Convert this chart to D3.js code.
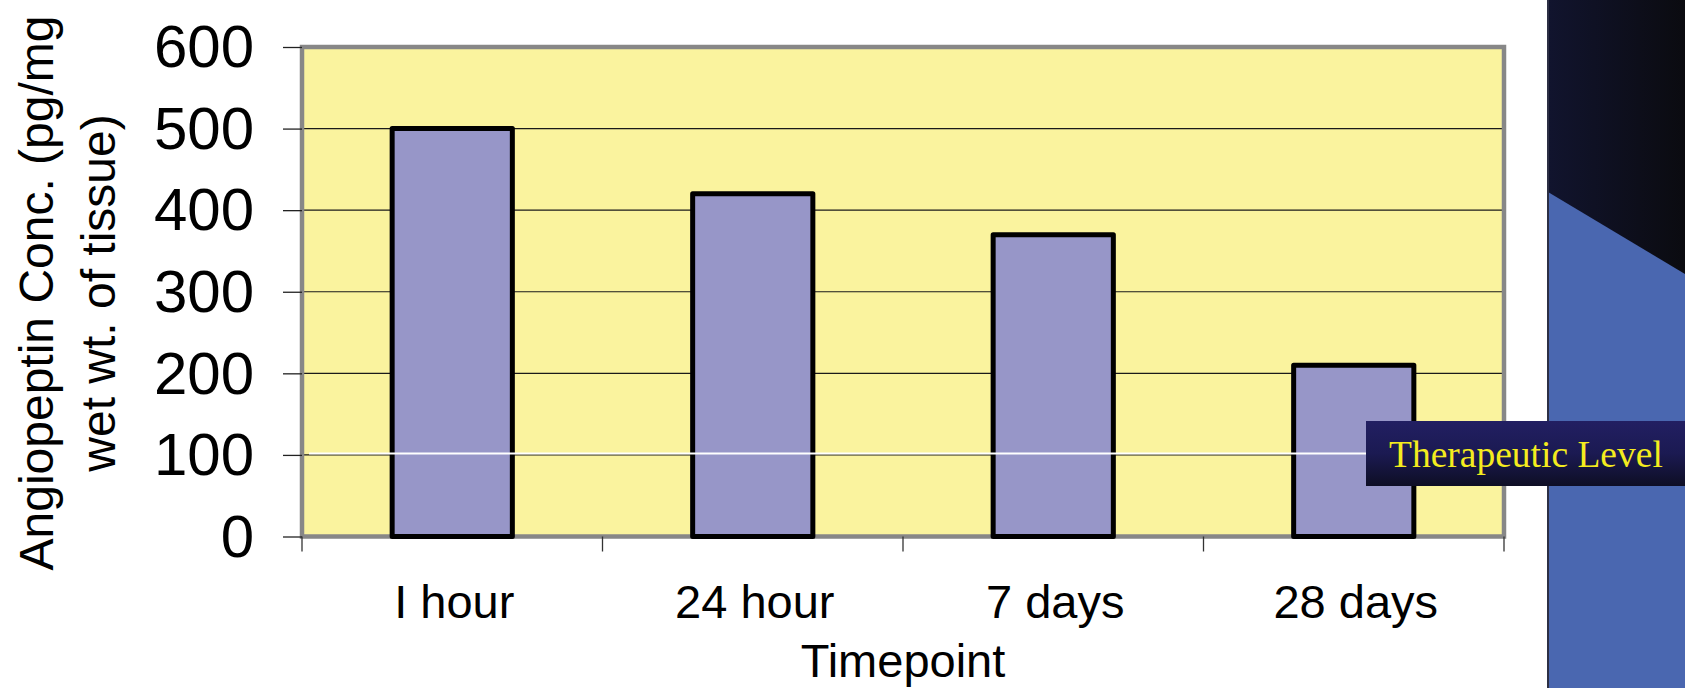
<!DOCTYPE html>
<html>
<head>
<meta charset="utf-8">
<script src="https://cdn.jsdelivr.net/npm/d3@7"></script>
<style>
  html, body { margin: 0; padding: 0; background: #ffffff; overflow: hidden; }
  svg { display: block; }
</style>
</head>
<body>
<svg id="chart" width="1685" height="688"></svg>
<script>
// Angiopeptin tissue concentration by timepoint
const categories = ["I hour", "24 hour", "7 days", "28 days"];
const values = [500, 420, 370, 210];
const yTicks = [0, 100, 200, 300, 400, 500, 600];
const therapeuticLevel = 100;
const therapeuticLabel = "Therapeutic Level";
const yTitleLines = ["Angiopeptin Conc. (pg/mg", "wet wt. of tissue)"];
const xTitle = "Timepoint";

const W = 1685, H = 688;
const plot = { left: 302, right: 1504, top: 47, bottom: 536.5 };

const svg = d3.select("#chart");

// gradients
const defs = svg.append("defs");
const panelGrad = defs.append("linearGradient").attr("id", "panelGrad")
  .attr("x1", "0").attr("x2", "1").attr("y1", "0").attr("y2", "0");
panelGrad.append("stop").attr("offset", "0").attr("stop-color", "#11142e");
panelGrad.append("stop").attr("offset", "1").attr("stop-color", "#0b0b10");
const boxGrad = defs.append("linearGradient").attr("id", "boxGrad")
  .attr("x1", "0").attr("x2", "0").attr("y1", "0").attr("y2", "1");
boxGrad.append("stop").attr("offset", "0").attr("stop-color", "#221f62");
boxGrad.append("stop").attr("offset", "0.5").attr("stop-color", "#1b1a52");
boxGrad.append("stop").attr("offset", "1").attr("stop-color", "#0e0e24");

// decorative side panel
const panelX = 1548;
svg.append("rect").attr("x", panelX).attr("y", 0)
  .attr("width", W - panelX).attr("height", H).attr("fill", "url(#panelGrad)");
svg.append("polygon")
  .attr("points", `${panelX},192 ${W},274 ${W},${H} ${panelX},${H}`)
  .attr("fill", "#4a67b0");
svg.append("line").attr("x1", panelX).attr("x2", panelX).attr("y1", 0).attr("y2", H)
  .attr("stroke", "#2c2f44").attr("stroke-width", 2);

// scales
const x = d3.scaleBand().domain(categories)
  .range([plot.left, plot.right]).paddingInner(0.6).paddingOuter(0.3);
const y = d3.scaleLinear().domain([0, 600]).range([plot.bottom, plot.top]);

// plot area
svg.append("rect")
  .attr("x", plot.left).attr("y", plot.top)
  .attr("width", plot.right - plot.left).attr("height", plot.bottom - plot.top)
  .attr("fill", "#faf39e");

// gridlines
svg.append("g").selectAll("line").data(yTicks.filter(d => d > 0 && d < 600)).join("line")
  .attr("x1", plot.left).attr("x2", plot.right)
  .attr("y1", d => y(d)).attr("y2", d => y(d))
  .attr("stroke", "#1a1a1a").attr("stroke-width", 1.2);

// frame
svg.append("rect")
  .attr("x", plot.left).attr("y", plot.top)
  .attr("width", plot.right - plot.left).attr("height", plot.bottom - plot.top)
  .attr("fill", "none").attr("stroke", "#878787").attr("stroke-width", 4.5);

// y axis
const yAxis = d3.axisLeft(y).tickValues(yTicks).tickSize(19).tickPadding(30)
  .tickFormat(d3.format("d"));
const gy = svg.append("g").attr("transform", `translate(${plot.left},0)`).call(yAxis);
gy.select(".domain").remove();
gy.selectAll(".tick line").attr("stroke", "#222").attr("stroke-width", 1.3);
gy.selectAll(".tick text")
  .attr("font-family", "'Liberation Sans', Arial, sans-serif")
  .attr("font-size", 60).attr("fill", "#000").attr("dy", "0.33em")
  .attr("x", -48);

// x axis: ticks on category boundaries
const bounds = d3.range(categories.length + 1).map(i =>
  plot.left + i * (plot.right - plot.left) / categories.length);
svg.append("g").selectAll("line").data(bounds).join("line")
  .attr("x1", d => d).attr("x2", d => d)
  .attr("y1", plot.bottom).attr("y2", plot.bottom + 15)
  .attr("stroke", "#333").attr("stroke-width", 1.3);

svg.append("g").selectAll("text").data(categories).join("text")
  .attr("x", d => x(d) + x.bandwidth() / 2 + 2)
  .attr("y", 618)
  .attr("text-anchor", "middle")
  .attr("font-family", "'Liberation Sans', Arial, sans-serif")
  .attr("font-size", 47).attr("fill", "#000")
  .text(d => d);

// bars
svg.append("g").selectAll("rect").data(values).join("rect")
  .attr("x", (d, i) => x(categories[i]))
  .attr("y", d => y(d))
  .attr("width", x.bandwidth())
  .attr("height", d => y(0) - y(d))
  .attr("fill", "#9796c8")
  .attr("stroke", "#000").attr("stroke-width", 5)
  .attr("stroke-linejoin", "round");

// therapeutic level line and label
const boxX = 1366, boxY = 421, boxH = 65;
svg.append("line")
  .attr("x1", plot.left + 7).attr("x2", boxX)
  .attr("y1", y(therapeuticLevel) - 1.5).attr("y2", y(therapeuticLevel) - 1.5)
  .attr("stroke", "#ffffff").attr("stroke-width", 2);
svg.append("rect").attr("x", boxX).attr("y", boxY)
  .attr("width", W - boxX).attr("height", boxH).attr("fill", "url(#boxGrad)");
svg.append("text").attr("x", 1389).attr("y", 466.5)
  .attr("font-family", "'Liberation Serif', 'Times New Roman', serif")
  .attr("font-size", 37.5).attr("fill", "#f4ec1e")
  .text(therapeuticLabel);

// axis titles
const yTitle = svg.append("text")
  .attr("transform", "translate(0,293) rotate(-90)")
  .attr("text-anchor", "middle")
  .attr("font-family", "'Liberation Sans', Arial, sans-serif")
  .attr("font-size", 48).attr("fill", "#000");
yTitle.selectAll("tspan").data(yTitleLines).join("tspan")
  .attr("x", 0).attr("y", (d, i) => 53 + i * 62)
  .text(d => d);

svg.append("text").attr("x", (plot.left + plot.right) / 2).attr("y", 677)
  .attr("text-anchor", "middle")
  .attr("font-family", "'Liberation Sans', Arial, sans-serif")
  .attr("font-size", 47).attr("fill", "#000")
  .text(xTitle);
</script>
</body>
</html>
